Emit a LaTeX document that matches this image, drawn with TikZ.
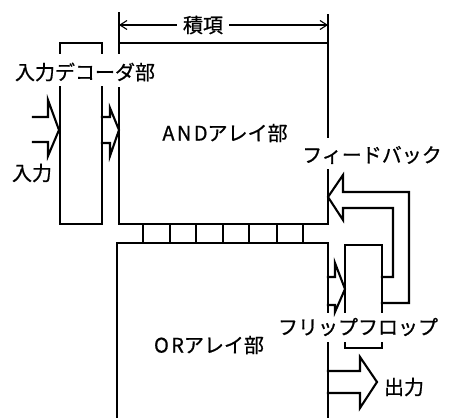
\documentclass[tikz,border=0pt]{standalone}
\usepackage{fontspec}
\setmainfont{Noto Sans CJK JP}
\usetikzlibrary{arrows.meta}
\begin{document}
\begin{tikzpicture}[x=1pt,y=-1pt,line width=2.1pt,line join=miter,line cap=rect,
  lbl/.style={font=\fontsize{20}{20}\selectfont\addfontfeature{FakeBold=0.8},inner sep=0pt},
  dim/.style={line width=1.1pt,line cap=butt,-{Straight Barb[length=7pt,width=9pt]}},
  hollow/.style={line width=2.1pt,line join=miter}]
\useasboundingbox (0,0) rectangle (449,417);
% labels
\node[lbl] (seki) at (203,25) {積項};
\node[lbl] (dec) at (85,72) {入力デコーダ部};
\node[lbl] (andl) at (225,133) {{\addfontfeature{LetterSpace=12}AND}アレイ部};
\node[lbl] (inp) at (32,173) {入力};
\node[lbl] (fb) at (372,155) {フィードバック};
\node[lbl] (orl) at (209,345) {{\addfontfeature{LetterSpace=12}OR}アレイ部};
\node[lbl] (ff) at (358,327) {フリップフロップ};
\node[lbl] (out) at (404,387) {出力};
% dimension arrows for product terms
\coordinate (dl) at (119,25);
\coordinate (dr) at (328,25);
\draw[dim] ([xshift=-5pt]seki.west) -- (dl);
\draw[dim] ([xshift=5pt]seki.east) -- (dr);
% input decoder box
\draw (60,53) -- (60,43) -- (102,43) -- (102,53);
\draw (60,87) -- (60,224) -- (102,224) -- (102,87);
% AND array
\draw (119,13) -- (119,53);
\draw (119,43) -- (328,43);
\draw (328,15) -- (328,137);
\draw (119,88) -- (119,224) -- (328,224) -- (328,170);
% product term lines between arrays
\foreach \x in {143,170,196,223,249,277,303}
  \draw (\x,224) -- (\x,243);
% OR array
\draw (117,417) -- (117,243) -- (328,243) -- (328,312);
\draw (328,343) -- (328,417);
% flip-flop
\draw (345,312) -- (345,245) -- (382,245) -- (382,312);
\draw (345,343) -- (345,348) -- (382,348) -- (382,343);
% input arrow
\draw[hollow] (33,117) -- (48,117) -- (48,100) -- (59,130) -- (48,156) -- (48,142) -- (33,142);
% decoder -> AND arrow
\draw[hollow] (102,117) -- (110,117) -- (110,108) -- (119,130) -- (110,156) -- (110,143) -- (102,143);
% OR -> flip-flop arrow
\draw[hollow] (328,277) -- (335,277) -- (335,263) -- (345,289) -- (335,312) -- (335,305) -- (328,305);
% feedback arrow
\draw[hollow] (382,277) -- (393,277) -- (393,208) -- (343,208) -- (343,220) -- (328,197) -- (343,175) -- (343,192) -- (409,192) -- (409,303) -- (382,303);
% output arrow
\draw[hollow] (328,371) -- (360,371) -- (360,357) -- (377,382) -- (360,408) -- (360,393) -- (328,393);
\end{tikzpicture}
\end{document}
